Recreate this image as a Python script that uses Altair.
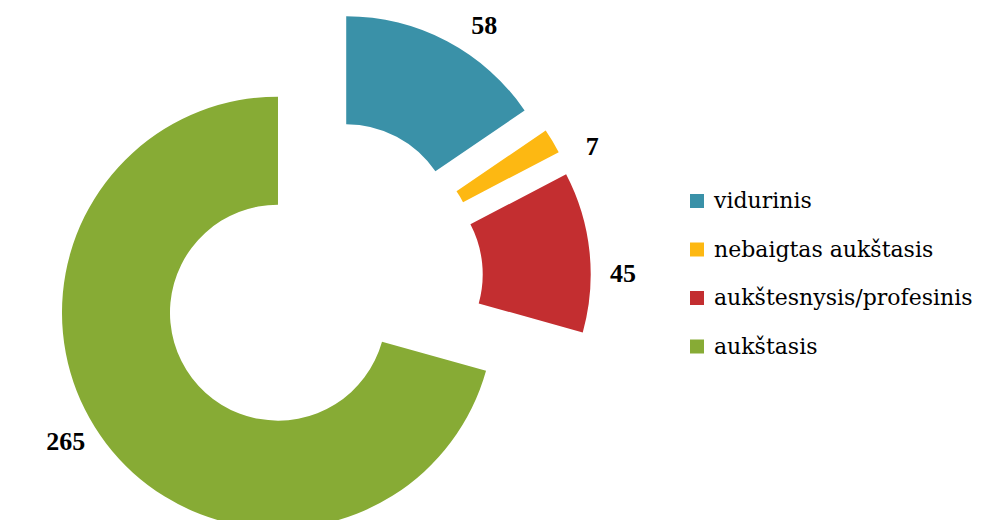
import altair as alt
import pandas as pd

categories = ["vidurinis", "nebaigtas aukštasis", "aukštesnysis/profesinis", "aukštasis"]
values = [58, 7, 45, 265]
colors = ["#3A91A8", "#FDB812", "#C32E30", "#87AB35"]

df = pd.DataFrame({"cat": categories, "val": values})

CX, CY = 313, 272
R_OUT, R_IN = 216, 108
EXPLODE = 54
LABEL_R = 302
LABEL_SHIFT = 0.085  # radians, clockwise nudge of the outside labels

base = alt.Chart(df).transform_window(
    cum="sum(val)", frame=[None, 0]
).transform_joinaggregate(
    total="sum(val)"
).transform_calculate(
    t0="(datum.cum - datum.val) / datum.total * 2 * PI",
    t1="datum.cum / datum.total * 2 * PI",
).transform_calculate(
    mid="(datum.t0 + datum.t1) / 2"
).transform_calculate(
    px=f"{CX} + {EXPLODE} * sin(datum.mid)",
    py=f"{CY} - {EXPLODE} * cos(datum.mid)",
    lx=f"{CX} + {LABEL_R} * sin(datum.mid + {LABEL_SHIFT})",
    ly=f"{CY} - {LABEL_R} * cos(datum.mid + {LABEL_SHIFT})",
)

arcs = base.mark_arc(innerRadius=R_IN, outerRadius=R_OUT).encode(
    x=alt.X("px:Q", scale=None),
    y=alt.Y("py:Q", scale=None),
    theta=alt.Theta("t0:Q", scale=None),
    theta2="t1:Q",
    color=alt.Color(
        "cat:N",
        scale=alt.Scale(domain=categories, range=colors),
        legend=alt.Legend(
            title=None,
            orient="none",
            legendX=678,
            legendY=182,
            symbolType="square",
            symbolSize=196,
            symbolStrokeWidth=0,
            labelFont="DejaVu Serif",
            labelFontSize=22,
            labelColor="black",
            labelOffset=6,
            rowPadding=26.5,
            labelLimit=400,
        ),
    ),
)

labels = base.mark_text(
    font="Liberation Serif", fontSize=26, fontWeight="bold", color="black"
).encode(
    x=alt.X("lx:Q", scale=None),
    y=alt.Y("ly:Q", scale=None),
    text="val:Q",
)

chart = alt.layer(arcs, labels).properties(
    width=965, height=512, padding=0, autosize=alt.AutoSizeParams(type="none")
).configure_view(stroke=None)

chart.save("out.html", embed_options={"renderer": "svg", "actions": False})
